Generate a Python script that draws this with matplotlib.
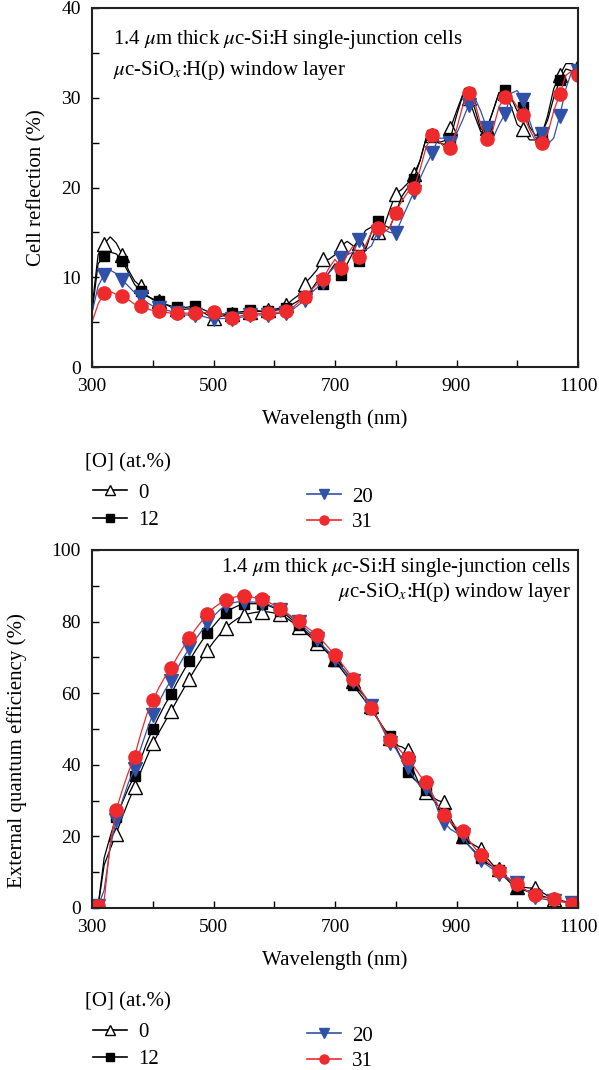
import numpy as np
import matplotlib
matplotlib.use("Agg")
import matplotlib.pyplot as plt
from matplotlib.lines import Line2D
from matplotlib.ticker import FixedLocator, MultipleLocator

plt.rcParams['font.family'] = ['Liberation Serif', 'DejaVu Serif']
plt.rcParams['mathtext.fontset'] = 'stix'

# wavelength grid (nm), 10 nm steps
wl = np.arange(300, 1101, 10)

oxygen = ["0", "12", "20", "31"]

# cell reflection (%)
refl_0 = [6.5, 12.5, 13.7, 14.5, 13.8, 12.5, 10.8, 9.6, 9.0, 8.0, 7.5, 7.3, 7.0, 6.7, 6.5, 6.4, 6.5, 6.6,
          6.2, 5.8, 5.5, 5.6, 5.8, 5.9, 6.0, 6.0, 6.1, 6.2, 6.2, 6.3, 6.4, 6.6, 6.9, 7.5, 8.0, 9.3, 10.0,
          10.8, 12.0, 12.0, 12.5, 13.5, 14.0, 13.5, 13.8, 15.2, 15.6, 15.0, 15.5, 17.5, 19.3, 19.8, 20.5,
          21.5, 23.0, 25.5, 25.8, 25.0, 25.2, 26.6, 28.5, 30.3, 30.0, 28.0, 26.2, 26.6, 28.5, 30.6, 30.5,
          29.0, 27.0, 26.5, 25.3, 25.3, 25.8, 28.0, 31.0, 32.5, 33.8, 33.8, 33.5]
refl_12 = [6.0, 11.5, 12.4, 12.8, 12.6, 11.8, 10.5, 9.2, 8.5, 7.9, 7.6, 7.4, 7.0, 6.8, 6.7, 6.6, 6.7, 6.8,
           6.5, 6.2, 6.0, 5.9, 5.9, 6.0, 6.1, 6.2, 6.4, 6.3, 6.2, 6.2, 6.3, 6.4, 6.6, 7.0, 7.4, 7.8, 8.5,
           9.5, 9.2, 10.5, 11.5, 10.2, 11.5, 12.8, 11.8, 13.0, 15.0, 16.3, 15.8, 15.5, 17.2, 19.0, 20.0,
           21.0, 23.0, 25.5, 25.8, 25.0, 24.8, 25.5, 28.0, 30.2, 30.5, 28.8, 26.5, 26.5, 28.5, 30.5, 30.9,
           30.0, 28.5, 29.0, 26.8, 25.8, 26.0, 27.5, 30.0, 32.0, 33.2, 33.0, 33.0]
refl_20 = [6.0, 9.0, 10.3, 10.8, 10.4, 9.7, 9.0, 8.3, 7.8, 7.2, 6.8, 6.6, 6.4, 6.2, 6.0, 5.8, 5.8, 5.8,
           5.7, 5.5, 5.4, 5.4, 5.4, 5.4, 5.5, 5.6, 5.8, 5.8, 5.8, 5.8, 5.9, 6.0, 6.0, 6.4, 6.9, 7.5, 8.2,
           8.8, 9.5, 10.5, 11.2, 12.2, 12.5, 12.8, 14.2, 13.0, 13.5, 15.0, 15.3, 15.0, 14.9, 16.5, 18.0,
           19.5, 21.0, 22.5, 23.8, 25.5, 25.5, 25.0, 26.0, 27.5, 29.2, 30.0, 28.5, 26.6, 25.5, 27.0, 28.2,
           30.5, 30.8, 29.7, 27.5, 25.5, 26.0, 24.8, 25.5, 28.0, 31.0, 33.0, 33.0]
refl_31 = [5.0, 7.0, 8.3, 8.4, 8.1, 7.9, 7.5, 7.0, 6.8, 6.5, 6.3, 6.2, 6.1, 6.0, 6.0, 6.0, 6.0, 6.0,
           6.0, 6.1, 6.1, 5.8, 5.6, 5.5, 5.6, 5.8, 5.9, 5.9, 6.0, 6.0, 6.1, 6.1, 6.2, 6.6, 7.2, 7.8, 8.5,
           9.2, 9.8, 11.0, 12.0, 11.0, 12.5, 13.5, 12.3, 13.5, 15.0, 15.5, 15.0, 15.5, 17.2, 18.5, 19.5,
           20.0, 22.0, 24.5, 25.8, 25.2, 24.5, 24.4, 26.5, 29.0, 30.5, 29.5, 27.0, 25.4, 26.5, 29.0, 30.1,
           30.0, 29.0, 28.1, 26.5, 25.2, 25.0, 26.0, 28.5, 30.4, 32.5, 33.0, 32.5]

# external quantum efficiency (%)
eqe_0 = [0.0, 0.5, 12.0, 16.5, 20.8, 25.5, 29.8, 33.7, 38.0, 42.0, 46.0, 49.0, 52.0, 55.0, 58.0, 61.0,
         64.0, 66.8, 69.5, 72.0, 74.3, 76.4, 78.3, 79.7, 80.9, 81.8, 82.3, 82.6, 82.8, 82.7, 82.4, 82.0,
         81.0, 79.8, 78.5, 77.1, 75.6, 74.0, 72.6, 71.1, 69.5, 67.5, 65.5, 63.5, 60.8, 58.8, 56.5, 53.0,
         50.0, 47.5, 45.5, 45.0, 44.0, 38.0, 34.0, 32.5, 31.0, 30.0, 29.5, 25.0, 22.0, 20.0, 18.5, 17.5,
         16.5, 14.0, 12.0, 11.0, 9.0, 7.5, 6.0, 5.8, 5.6, 5.5, 4.5, 3.4, 2.5, 2.0, 1.7, 1.5, 1.4]
eqe_12 = [0.0, 0.5, 14.0, 20.0, 25.5, 29.5, 33.5, 37.0, 41.5, 46.0, 50.0, 53.5, 56.8, 59.7, 63.0, 66.0,
          69.0, 71.8, 74.4, 76.7, 78.8, 80.8, 82.4, 83.6, 84.4, 84.8, 85.0, 85.0, 85.0, 84.5, 83.8, 83.0,
          81.8, 80.4, 79.0, 77.6, 76.1, 74.5, 72.7, 70.9, 69.0, 66.8, 64.6, 62.3, 60.0, 57.8, 55.5, 52.8,
          50.3, 48.0, 45.0, 41.5, 38.0, 36.0, 34.5, 33.0, 30.5, 28.5, 26.5, 24.0, 21.5, 19.5, 17.5, 15.8,
          14.0, 12.5, 11.5, 10.5, 8.5, 6.8, 5.5, 5.0, 4.5, 4.0, 3.4, 2.9, 2.5, 2.1, 1.8, 1.5, 1.4]
eqe_20 = [0.0, 0.5, 5.0, 17.0, 24.5, 30.0, 35.0, 38.8, 44.5, 49.5, 54.0, 57.5, 60.8, 63.5, 66.8, 69.8,
          72.5, 75.0, 77.3, 79.5, 81.5, 83.2, 84.5, 85.2, 85.5, 85.5, 85.5, 85.4, 85.3, 84.8, 84.1, 83.3,
          82.2, 81.0, 79.8, 78.3, 76.7, 75.0, 73.3, 71.5, 69.5, 67.5, 65.5, 63.5, 61.3, 59.0, 56.5, 53.0,
          49.5, 46.0, 44.5, 41.5, 39.3, 36.5, 34.0, 33.5, 31.5, 27.0, 23.8, 22.0, 21.0, 20.5, 17.5, 15.5,
          13.5, 12.0, 10.8, 9.5, 8.5, 7.8, 7.0, 5.5, 4.2, 3.0, 2.6, 2.3, 2.0, 1.8, 1.6, 1.5, 1.4]
eqe_31 = [0.0, 0.5, 2.0, 18.0, 27.5, 33.0, 38.0, 42.3, 48.5, 54.0, 58.0, 61.5, 64.5, 67.0, 70.0, 72.8,
          75.3, 77.8, 80.0, 82.0, 83.8, 85.0, 86.0, 86.7, 87.0, 87.2, 87.0, 86.6, 86.2, 85.5, 84.6, 83.6,
          82.5, 81.3, 80.1, 78.9, 77.6, 76.2, 74.5, 72.6, 70.6, 68.5, 66.3, 64.1, 61.5, 58.8, 56.0, 53.0,
          50.0, 47.0, 45.5, 43.5, 41.8, 39.5, 37.0, 35.2, 32.0, 28.5, 26.0, 24.0, 22.5, 21.5, 19.0, 16.8,
          14.7, 13.0, 11.5, 10.2, 9.0, 7.8, 6.8, 5.5, 4.4, 3.5, 3.0, 2.8, 2.6, 2.0, 1.5, 1.0, 0.8]

BLUE = '#2f52a8'
RED = '#ee2a2c'
FS = 15

styles = [
    dict(color='black', marker='^', mfc='white', mec='black', ms=9.5),
    dict(color='black', marker='s', mfc='black', mec='black', ms=7.5),
    dict(color=BLUE, marker='v', mfc=BLUE, mec=BLUE, ms=9.5),
    dict(color=RED, marker='o', mfc=RED, mec=RED, ms=9.5),
]

title1 = r"1.4 $\mu$m thick $\mu$c-Si:H single-junction cells"
title2 = r"$\mu$c-SiO$_x$:H(p) window layer"

W, H = 599, 1070
fig = plt.figure(figsize=(W / 100, H / 100), dpi=100)
ax1 = fig.add_axes([92 / W, 1 - 367 / H, 486 / W, 359 / H])
ax2 = fig.add_axes([92 / W, 1 - 908 / H, 486 / W, 358 / H])


def style_axes(ax, ymax, ymajor):
    ax.set_xlim(300, 1100)
    ax.set_ylim(0, ymax)
    ax.xaxis.set_major_locator(FixedLocator([300, 500, 700, 900, 1100]))
    ax.xaxis.set_minor_locator(FixedLocator([400, 600, 800, 1000]))
    ax.yaxis.set_major_locator(MultipleLocator(ymajor))
    ax.yaxis.set_minor_locator(MultipleLocator(ymajor / 2))
    ax.tick_params(which='both', direction='in', labelsize=14, top=False, right=False)
    ax.tick_params(which='major', length=5, width=1, pad=8)
    ax.tick_params(which='minor', length=5, width=1)
    for s in ax.spines.values():
        s.set_linewidth(1.5)
        s.set_color('#222222')
    ax.set_xlabel("Wavelength (nm)", fontsize=FS, labelpad=10)


# reflection
for y, st in zip([refl_0, refl_12, refl_20, refl_31], styles):
    ax1.plot(wl, y, lw=0.9, markevery=(2, 3), **st)
style_axes(ax1, 40, 10)
ax1.set_ylabel("Cell reflection (%)", fontsize=FS)
ax1.yaxis.set_label_coords(-0.093, 0.5)
ax1.text(0.043, 0.911, title1, transform=ax1.transAxes, fontsize=FS, ha='left', va='center')
ax1.text(0.043, 0.827, title2, transform=ax1.transAxes, fontsize=FS, ha='left', va='center')

# quantum efficiency
for y, st in zip([eqe_0, eqe_12, eqe_20, eqe_31], styles):
    ax2.plot(wl, y, lw=0.9, markevery=(1, 3), **st)
style_axes(ax2, 100, 20)
ax2.set_ylabel("External quantum efficiency (%)", fontsize=FS)
ax2.yaxis.set_label_coords(-0.134, 0.44)
ax2.text(0.985, 0.95, title1, transform=ax2.transAxes, fontsize=FS, ha='right', va='center')
ax2.text(0.985, 0.883, title2, transform=ax2.transAxes, fontsize=FS, ha='right', va='center')


def legend_entry(i, x, y):
    st = dict(styles[i])
    st['ms'] = 6.5 if st['marker'] != 's' else 5.5
    h = Line2D([], [], lw=1.2, **st)
    fig.legend([h], [oxygen[i]], loc='center left', bbox_to_anchor=(x / W, 1 - y / H),
               frameon=False, fontsize=FS, handlelength=1.65, handletextpad=0.5,
               borderpad=0, borderaxespad=0)


# legend block under each panel: title row, then two columns
for base in (463, 1002):
    fig.text(85 / W, 1 - base / H, "[O] (at.%)", fontsize=FS, ha='left', va='center')
    legend_entry(0, 93, base + 30)
    legend_entry(1, 93, base + 57)
    legend_entry(2, 307, base + 34)
    legend_entry(3, 307, base + 59)

fig.savefig("out.png", dpi=100)
